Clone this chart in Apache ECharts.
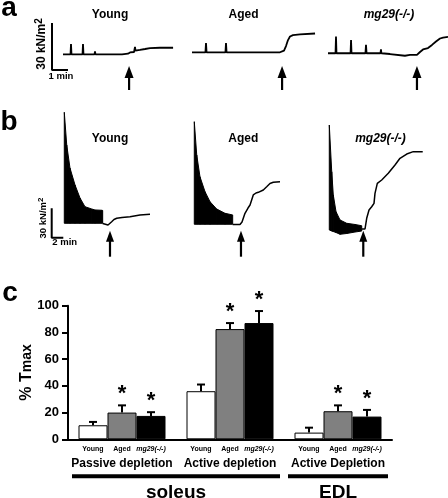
<!DOCTYPE html>
<html><head><meta charset="utf-8">
<script src="https://cdn.jsdelivr.net/npm/echarts/dist/echarts.min.js"></script>
<style>html,body{margin:0;padding:0;background:#fff}#c{width:448px;height:498px}</style>
</head><body><div id="c"></div>
<script>
const FONT = '"Liberation Sans", Arial, Helvetica, sans-serif';

// ---------- Panel c data ----------
const groupLabels = ['Passive depletion', 'Active depletion', 'Active Depletion'];
const seriesNames = ['Young', 'Aged', 'mg29(-/-)'];
const youngMean = [10.5, 36, 5];
const youngSem  = [2.5, 5, 3.7];
const agedMean  = [20, 82.5, 21];
const agedSem   = [5.4, 4.5, 4.4];
const mg29Mean  = [17.5, 87, 17];
const mg29Sem   = [2.8, 9, 5];
const youngStar = [false, false, false];
const agedStar  = [true, true, true];
const mg29Star  = [true, true, true];
const muscleLabels = ['soleus', 'EDL'];
const muscleFirstGroup = [0, 2];
const muscleLastGroup  = [1, 2];
const yTickMax = 100, yTickStep = 20;

// ---------- Panel a traces (time in min, force in kN/m2) ----------
const aYoungT = [0,0.47,0.5,0.53,1.22,1.25,1.28,1.97,2.0,2.03,3.69,3.75,3.81,4.06,4.19,4.44,4.5,4.53,4.81,5.13,5.44,6.06,6.88];
const aYoungF = [10,10,16.6,10,10,16.6,10,10,11.8,10,10,9.6,10,10.4,11.2,11.5,14.7,12.4,12.8,13.4,14,14.2,14.2];
const aAgedT  = [0,0.84,0.875,0.91,2.09,2.125,2.16,3.28,3.31,3.34,5.5,5.625,5.75,5.875,6.0,6.125,6.31,6.75,7.69];
const aAgedF  = [11.3,11.3,17.2,11.3,11.3,17.2,11.3,11.3,12.4,11.3,11.3,11.5,12.4,15.3,19.1,21.4,22.3,22.7,23.3];
const aMg29T  = [0,0.47,0.5,0.53,1.41,1.44,1.47,2.34,2.375,2.41,3.28,3.31,3.34,3.875,4.0,4.81,5.125,5.56,5.75,5.94,6.25,6.5,6.75,7.0,7.19,7.5];
const aMg29F  = [10.7,10.7,21.3,10.7,10.7,19.2,10.7,10.7,16,10.7,10.7,13.2,10.7,10.2,9.1,9.1,9.6,9.6,11.5,13.1,14,16,18.2,20.1,20.7,21.1];
const aArrowT = [4.13, 5.63, 5.56];
const aScaleForce = 30, aScaleTime = 1;

// ---------- Panel b traces ----------
const bYoungFatT  = [0.05,0.47,1.03,1.9,2.76,3.62,4.78,5.34,6.5,6.67];
const bYoungPeak  = [128,94.6,71.1,53.8,40.5,31.6,29.3,28.3,28.0,27.8];
const bYoungRest  = [14.7,14.7,14.7,14.7,14.7,14.7,14.7,14.7,14.7,14.7];
const bYoungPostT = [6.67,6.9,7.59,7.93,8.22,8.62,9.09,10.0,11.38,13.1,14.83];
const bYoungPostF = [14.5,13.5,13.0,14.0,16.3,18.6,19.8,20.6,21.4,23.2,23.9];
const bAgedFatT   = [0.05,0.47,1.03,1.9,2.76,3.91,5.34,6.67];
const bAgedPeak   = [118.4,84.4,62.2,46.9,36.7,29.3,24.9,23.2];
const bAgedRest   = [13.7,13.7,13.7,13.7,13.7,13.7,13.7,13.7];
const bAgedPostT  = [6.67,7.93,8.28,8.79,9.31,9.66,10.22,10.69,11.09,11.95,12.53,13.1,13.67,14.83];
const bAgedPostF  = [13.5,13.5,16.0,24.9,30.3,33.4,43.6,45.6,46.3,48.7,52.0,55.3,56.5,57.1];
const bMg29FatT   = [0.05,0.47,0.74,1.21,1.9,3.05,4.48,5.64];
const bMg29Peak   = [115,67.3,43.6,26.5,18.1,14.7,13.5,12.2];
const bMg29Rest   = [7.9,6.8,6.3,5.3,3.5,4.3,5.8,6.8];
const bMg29PostT  = [5.64,6.21,6.5,6.9,7.36,7.76,7.93,8.33,9.09,10.22,11.38,12.24,13.4,14.53,16.16];
const bMg29PostF  = [8.9,8.9,19.8,28.3,31.6,35.1,45.3,55.5,58.9,65.7,74.2,81.0,85.4,87.8,87.8];
const bArrowT = [7.93, 8.1, 5.91];
const bScaleForce = 30, bScaleTime = 2;

const traceTitles = ['Young', 'Aged', 'mg29(-/-)'];

// ---------- layout ----------
const zip = (t, f) => t.map((v, i) => [v, f[i]]);
const A = {pxMin: 16, pxUnit: 47 / 30, yMax: 30, top: 23, xMax: 8, lefts: [63, 192, 328], scaleLeft: 52};
const B = {pxMin: 5.8, pxUnit: 0.98, yMax: 130, bottom: 237.7, xMax: 17, lefts: [64, 194, 329], scaleLeft: 51.7};
B.top = B.bottom - B.yMax * B.pxUnit;
const BAR_W = 29;

const grids = [], xAxes = [], yAxes = [], series = [];
function addGrid(g, xa, ya) {
  const i = grids.length;
  grids.push(Object.assign({outerBoundsMode: 'none', containLabel: false}, g));
  xAxes.push(Object.assign({gridIndex: i}, xa));
  yAxes.push(Object.assign({gridIndex: i}, ya));
  return i;
}
const hid = (min, max) => ({type: 'value', min, max, show: false});

// Panel c grid (index 0)
const cG = addGrid({left: 68, top: 305.7, width: 324, height: 133.6},
  {type: 'category', data: groupLabels,
   axisLine: {show: true, lineStyle: {color: '#000', width: 2}}, axisTick: {show: false},
   axisLabel: {color: '#000', fontFamily: FONT, fontSize: 12, fontWeight: 'bold', margin: 18, interval: 0}},
  {type: 'value', min: 0, max: yTickMax, interval: yTickStep,
   name: '% T{s|max}', nameLocation: 'middle', nameGap: 41, nameRotate: 90, nameMoveOverlap: false,
   nameTextStyle: {color: '#000', fontFamily: FONT, fontSize: 16, fontWeight: 'bold', verticalAlign: 'middle',
     rich: {s: {fontFamily: FONT, fontSize: 14, fontWeight: 'bold', color: '#000'}}},
   axisLine: {show: true, lineStyle: {color: '#000', width: 2}},
   axisTick: {show: true, length: 6, lineStyle: {color: '#000', width: 2}},
   splitLine: {show: false},
   axisLabel: {color: '#000', fontFamily: FONT, fontSize: 13, fontWeight: 'bold', margin: 9}});

const means = [youngMean, agedMean, mg29Mean];
const sems = [youngSem, agedSem, mg29Sem];
const stars = [youngStar, agedStar, mg29Star];
const fills = ['#ffffff', '#808080', '#000000'];
seriesNames.forEach((nm, s) => {
  series.push({
    name: nm, type: 'bar', xAxisIndex: cG, yAxisIndex: cG, data: means[s],
    barWidth: BAR_W, barGap: '0%',
    itemStyle: {color: fills[s], borderColor: '#000', borderWidth: 1},
    label: {show: true, position: 'bottom', distance: 6, formatter: '{a}', color: '#000',
      fontFamily: FONT, fontSize: 7, fontWeight: 'bold', fontStyle: s === 2 ? 'italic' : 'normal'}
  });
});
seriesNames.forEach((nm, s) => {
  series.push({
    type: 'custom', xAxisIndex: cG, yAxisIndex: cG, clip: false, silent: true, z: 5,
    encode: {x: 0, y: 1},
    data: means[s].map((m, i) => [i, m, sems[s][i], stars[s][i] ? 1 : 0]),
    renderItem(params, api) {
      const c = api.coord([api.value(0), api.value(1)]);
      const x = c[0] + (s - 1) * BAR_W;
      const top = api.coord([api.value(0), api.value(1) + api.value(2)])[1];
      const ch = [
        {type: 'line', shape: {x1: x, y1: c[1], x2: x, y2: top}, style: {stroke: '#000', lineWidth: 2}},
        {type: 'line', shape: {x1: x - 4, y1: top, x2: x + 4, y2: top}, style: {stroke: '#000', lineWidth: 2}}
      ];
      if (api.value(3)) ch.push({type: 'text', style: {text: '*', x: x, y: top - 11, fill: '#000',
        font: 'bold 22px ' + FONT, textAlign: 'center', textVerticalAlign: 'middle', align: 'center', verticalAlign: 'middle'}});
      return {type: 'group', children: ch};
    }
  });
});
// muscle brackets
series.push({
  type: 'custom', xAxisIndex: cG, yAxisIndex: cG, clip: false, silent: true,
  encode: {x: [0, 1], y: 2},
  data: muscleFirstGroup.map((f, i) => [f, muscleLastGroup[i], 0]),
  renderItem(params, api) {
    const bw = api.size([1, 0])[0];
    const x0 = api.coord([api.value(0), 0])[0] - bw / 2 + 4;
    const x1 = api.coord([api.value(1), 0])[0] + bw / 2 - 4;
    const y0 = api.coord([0, 0])[1];
    return {type: 'group', children: [
      {type: 'rect', shape: {x: x0, y: y0 + 35, width: x1 - x0, height: 4}, style: {fill: '#000'}},
      {type: 'text', style: {text: muscleLabels[params.dataIndex], x: (x0 + x1) / 2, y: y0 + 53, fill: '#000',
        font: 'bold 19px ' + FONT, textAlign: 'center', textVerticalAlign: 'middle', align: 'center', verticalAlign: 'middle'}}
    ]};
  }
});

// ---------- trace helpers ----------
const lineStyle = w => ({color: '#000', width: w});
function arrowSeries(gi, t, tipOff, tailOff, headW, headH) {
  return {type: 'custom', xAxisIndex: gi, yAxisIndex: gi, clip: false, silent: true,
    encode: {x: 0, y: 1}, data: [[t, 0]],
    renderItem(params, api) {
      const p = api.coord([api.value(0), 0]);
      const x = p[0], tip = p[1] + tipOff, tail = p[1] + tailOff;
      return {type: 'group', children: [
        {type: 'line', shape: {x1: x, y1: tip + headH - 1, x2: x, y2: tail}, style: {stroke: '#000', lineWidth: 2.2}},
        {type: 'polygon', shape: {points: [[x, tip], [x - headW / 2, tip + headH], [x + headW / 2, tip + headH]]}, style: {fill: '#000'}}
      ]};
    }};
}
function lineSeries(gi, data, w) {
  return {type: 'line', xAxisIndex: gi, yAxisIndex: gi, data, showSymbol: false, symbol: 'none',
    clip: false, silent: true, lineStyle: lineStyle(w)};
}
// filled band between resting and peak tension of the tetanic train
function bandSeries(gi, ft, pk, rs) {
  return {type: 'custom', xAxisIndex: gi, yAxisIndex: gi, clip: false, silent: true,
    encode: {x: 0, y: [1, 2]},
    data: ft.map((t, i) => [t, pk[i], rs[i]]),
    renderItem(params, api) {
      const i = params.dataIndex;
      if (i >= ft.length - 1) return null;
      const pts = [api.coord([ft[i], pk[i]]), api.coord([ft[i + 1], pk[i + 1]]),
                   api.coord([ft[i + 1], rs[i + 1]]), api.coord([ft[i], rs[i]])];
      return {type: 'polygon', shape: {points: pts}, style: {fill: '#000', stroke: '#000', lineWidth: 1, lineJoin: 'round'}};
    }};
}

// ---------- Panel a ----------
const aScaleG = addGrid({left: A.scaleLeft, top: A.top, width: aScaleTime * A.pxMin, height: A.yMax * A.pxUnit},
  hid(0, aScaleTime), hid(0, A.yMax));
series.push(lineSeries(aScaleG, [[0, aScaleForce], [0, 0], [aScaleTime, 0]], 2));
const aData = [zip(aYoungT, aYoungF), zip(aAgedT, aAgedF), zip(aMg29T, aMg29F)];
aData.forEach((d, k) => {
  const g = addGrid({left: A.lefts[k], top: A.top, width: A.xMax * A.pxMin, height: A.yMax * A.pxUnit},
    hid(0, A.xMax), hid(0, A.yMax));
  series.push(lineSeries(g, d, 1.8));
  series.push(arrowSeries(g, aArrowT[k], -4, 20, 9, 12));
});

// ---------- Panel b ----------
const bScaleG = addGrid({left: B.scaleLeft, top: B.bottom - bScaleForce * B.pxUnit, width: bScaleTime * B.pxMin, height: bScaleForce * B.pxUnit},
  hid(0, bScaleTime), hid(0, bScaleForce));
series.push(lineSeries(bScaleG, [[0, bScaleForce], [0, 0], [bScaleTime, 0]], 2));
const bSets = [
  [bYoungFatT, bYoungPeak, bYoungRest, bYoungPostT, bYoungPostF],
  [bAgedFatT, bAgedPeak, bAgedRest, bAgedPostT, bAgedPostF],
  [bMg29FatT, bMg29Peak, bMg29Rest, bMg29PostT, bMg29PostF]
];
bSets.forEach((st, k) => {
  const [ft, pk, rs, pt, pf] = st;
  const g = addGrid({left: B.lefts[k], top: B.top, width: B.xMax * B.pxMin, height: B.yMax * B.pxUnit},
    hid(0, B.xMax), hid(0, B.yMax));
  series.push(bandSeries(g, ft, pk, rs));
  series.push(lineSeries(g, zip(pt, pf), 1.5));
  series.push(arrowSeries(g, bArrowT[k], -7, 19, 8, 11));
});

// ---------- texts ----------
const T = (text, x, y, size, opts) => Object.assign({type: 'text', x, y, silent: true,
  style: Object.assign({text, fill: '#000', font: 'bold ' + size + 'px ' + FONT,
    textAlign: 'center', textVerticalAlign: 'middle', align: 'center', verticalAlign: 'middle'}, (opts && opts.style) || {})},
  opts && opts.rotation ? {rotation: opts.rotation} : {});
const italic = s => ({style: {font: 'italic bold ' + s + 'px ' + FONT}});
const unitStyle = (size, sup) => ({rotation: Math.PI / 2, style: {text: '30 kN/m{s|2}',
  rich: {s: {fontFamily: FONT, fontWeight: 'bold', fontSize: sup, verticalAlign: 'top', fill: '#000', padding: [0, 0, size * 0.45, 0]}}}});
const aTitleX = [110, 243.5, 389], bTitleX = [110, 243.3, 380.5];
const graphics = [
  T('a', 9, 8, 28), T('b', 9, 122, 28), T('c', 10, 293, 28),
  T('30 kN/m2', 42, 44, 12, unitStyle(12, 10)), T('1 min', 61, 76.5, 9.5),
  T('30 kN/m2', 43, 218, 9.5, unitStyle(9.5, 8)), T('2 min', 64.7, 242, 9.5)
];
traceTitles.forEach((t, k) => {
  graphics.push(T(t, aTitleX[k], 14.5, 12, k === 2 ? italic(12) : null));
  graphics.push(T(t, bTitleX[k], 139, 12, k === 2 ? italic(12) : null));
});

const chart = echarts.init(document.getElementById('c'), null, {renderer: 'canvas', width: 448, height: 498});
chart.setOption({
  animation: false,
  backgroundColor: '#fff',
  textStyle: {fontFamily: FONT},
  grid: grids, xAxis: xAxes, yAxis: yAxes, series,
  graphic: {elements: graphics}
});
</script></body></html>
